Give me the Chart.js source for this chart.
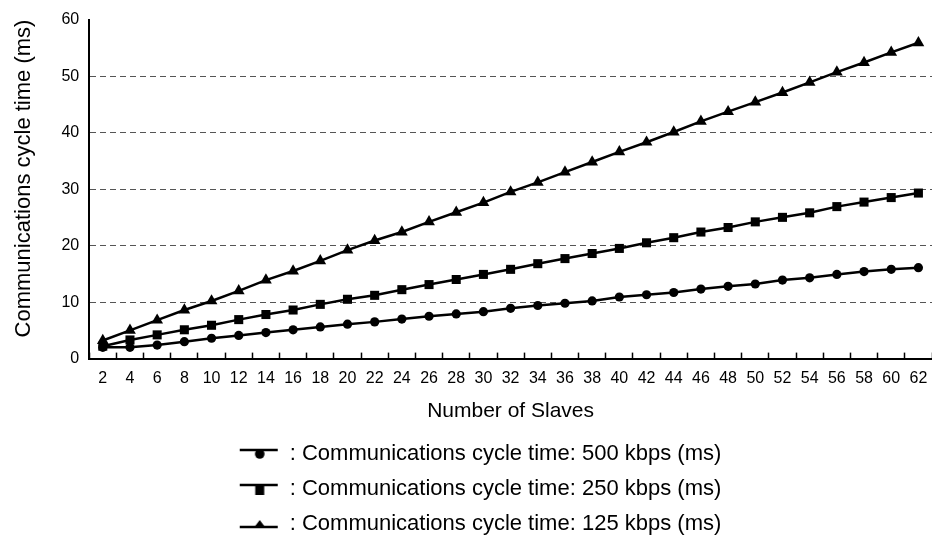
<!DOCTYPE html>
<html>
<head>
<meta charset="utf-8">
<script src="https://cdn.jsdelivr.net/npm/chart.js@4.4.1/dist/chart.umd.min.js"></script>
<style>
  html, body { margin: 0; padding: 0; background: #fff; }
  #wrap { width: 932px; height: 539px; }
</style>
</head>
<body>
<div id="wrap"><canvas id="cycleChart" width="932" height="539"></canvas></div>
<script>
// number of slaves (x categories)
const slaves = ['2','4','6','8','10','12','14','16','18','20','22','24','26','28','30','32',
  '34','36','38','40','42','44','46','48','50','52','54','56','58','60','62'];

// communications cycle time (ms)
const cycle500 = [2.0, 2.0, 2.4, 3.0, 3.6, 4.1, 4.6, 5.1, 5.6, 6.1, 6.5, 7.0, 7.5, 7.9, 8.3, 8.9,
  9.4, 9.8, 10.2, 10.9, 11.3, 11.7, 12.3, 12.8, 13.2, 13.9, 14.3, 14.9, 15.4, 15.8, 16.1];
const cycle250 = [2.2, 3.3, 4.2, 5.1, 5.9, 6.9, 7.8, 8.6, 9.6, 10.5, 11.2, 12.2, 13.1, 14.0, 14.9, 15.8,
  16.8, 17.7, 18.6, 19.5, 20.5, 21.4, 22.4, 23.2, 24.2, 25.0, 25.8, 26.9, 27.7, 28.5, 29.3];
const cycle125 = [3.2, 5.0, 6.8, 8.6, 10.2, 12.0, 13.9, 15.5, 17.3, 19.2, 20.9, 22.4, 24.2, 25.9, 27.6, 29.5,
  31.2, 33.0, 34.8, 36.6, 38.3, 40.1, 42.0, 43.7, 45.4, 47.1, 48.9, 50.7, 52.4, 54.2, 55.9];

const seriesNames = [
  ': Communications cycle time: 500 kbps (ms)',
  ': Communications cycle time: 250 kbps (ms)',
  ': Communications cycle time: 125 kbps (ms)'
];
const yTicks = [0, 10, 20, 30, 40, 50, 60];

const FONT = '"Liberation Sans", Arial, Helvetica, sans-serif';
const SYM_W = 68;

// legend symbol: short line with the marker hanging under it
// (drawn at the right end of a wider image so the legend row sits like the original)
function legendSymbol(kind) {
  const c = document.createElement('canvas');
  c.width = SYM_W; c.height = 16;
  const g = c.getContext('2d');
  g.fillStyle = '#000';
  g.strokeStyle = '#000';
  g.lineWidth = 2.5;
  const x0 = SYM_W - 39;
  const ly = kind === 'triangle' ? 11 : 4;
  g.beginPath(); g.moveTo(x0, ly); g.lineTo(x0 + 38, ly); g.stroke();
  g.beginPath();
  const cx = x0 + 20;
  if (kind === 'circle') {
    g.arc(cx, 8, 4.8, 0, Math.PI * 2);
  } else if (kind === 'rect') {
    g.rect(cx - 4.5, 4, 9, 10);
  } else {
    g.moveTo(cx, 4); g.lineTo(cx + 6, 12); g.lineTo(cx - 6, 12); g.closePath();
  }
  g.fill();
  return c;
}

function makeSet(label, data, style, radius) {
  return {
    label: label,
    data: data,
    borderColor: '#000',
    backgroundColor: '#000',
    borderWidth: 2.5,
    pointStyle: style,
    pointRadius: radius,
    pointHoverRadius: radius,
    pointBackgroundColor: '#000',
    pointBorderColor: '#000',
    pointBorderWidth: 0,
    tension: 0,
    fill: false,
    clip: false
  };
}

const symbols = [legendSymbol('circle'), legendSymbol('rect'), legendSymbol('triangle')];

const ctx = document.getElementById('cycleChart').getContext('2d');
const chart = new Chart(ctx, {
  type: 'line',
  data: {
    labels: slaves,
    datasets: [
      makeSet(seriesNames[0], cycle500, 'circle', 4.6),
      makeSet(seriesNames[1], cycle250, 'rect', 6.4),
      makeSet(seriesNames[2], cycle125, 'triangle', 6.8)
    ]
  },
  options: {
    responsive: false,
    animation: false,
    layout: { autoPadding: false, padding: { top: 11, right: 0, bottom: -6, left: 0 } },
    plugins: {
      tooltip: { enabled: false },
      legend: {
        display: true,
        position: 'bottom',
        align: 'center',
        labels: {
          usePointStyle: true,
          pointStyleWidth: SYM_W,
          padding: 13,
          color: '#000',
          font: { family: FONT, size: 22 },
          generateLabels: (chart) => chart.data.datasets.map((ds, i) => ({
            text: ds.label,
            pointStyle: symbols[i],
            fillStyle: '#000',
            strokeStyle: '#000',
            lineWidth: 0,
            hidden: false,
            datasetIndex: i,
            fontColor: '#000'
          }))
        }
      }
    },
    scales: {
      x: {
        type: 'category',
        offset: true,
        afterFit: (s) => { s.paddingLeft = 0; s.paddingRight = 0; },
        grid: {
          display: true,
          offset: true,
          drawOnChartArea: false,
          drawTicks: true,
          tickLength: -6,
          tickWidth: 1.5,
          tickColor: '#000'
        },
        border: { display: true, color: '#000', width: 2 },
        ticks: {
          color: '#000',
          padding: 16,
          maxRotation: 0,
          autoSkip: false,
          font: { family: FONT, size: 16 }
        },
        title: {
          display: true,
          text: 'Number of Slaves',
          color: '#000',
          font: { family: FONT, size: 21 },
          padding: { top: -5, bottom: 6 }
        }
      },
      y: {
        min: 0,
        max: 60,
        afterBuildTicks: (scale) => { scale.ticks = yTicks.map(v => ({ value: v })); },
        grid: {
          drawTicks: false,
          lineWidth: 1,
          color: (c) => (c.tick && (c.tick.value === 0 || c.tick.value === 60)) ? 'rgba(0,0,0,0)' : '#555'
        },
        border: { display: true, color: '#000', width: 2, dash: [6, 4] },
        ticks: {
          color: '#000',
          padding: 10,
          font: { family: FONT, size: 16 }
        },
        title: {
          display: true,
          align: 'end',
          text: 'Communications cycle time (ms)',
          color: '#000',
          font: { family: FONT, size: 22 },
          padding: { top: 11, bottom: 14 }
        }
      }
    }
  }
});
</script>
</body>
</html>
